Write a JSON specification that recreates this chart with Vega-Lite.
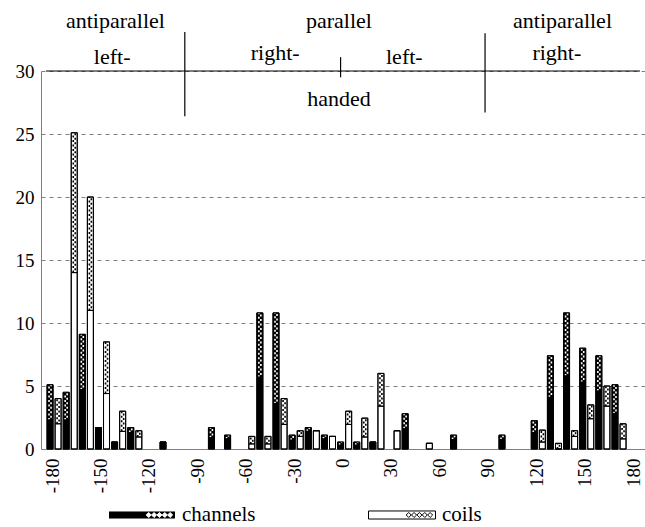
{
  "$schema": "https://vega.github.io/schema/vega-lite/v6.json",
  "width": 604,
  "height": 378,
  "autosize": {"type": "none"},
  "padding": {"left": 41, "top": 71, "right": 0, "bottom": 78},
  "background": "white",
  "config": {"view": {"stroke": null}, "font": "Liberation Serif"},
  "datasets": {
    "bars": [
      {"a": -177.5, "s": "channels", "solid": 2.3, "total": 5.1},
      {"a": -172.5, "s": "coils", "solid": 2.0, "total": 4.0},
      {"a": -167.5, "s": "channels", "solid": 2.3, "total": 4.5},
      {"a": -162.5, "s": "coils", "solid": 14.0, "total": 25.1},
      {"a": -157.5, "s": "channels", "solid": 4.7, "total": 9.1},
      {"a": -152.5, "s": "coils", "solid": 11.0, "total": 20.0},
      {"a": -147.5, "s": "channels", "solid": 1.7, "total": 1.7},
      {"a": -142.5, "s": "coils", "solid": 4.4, "total": 8.5},
      {"a": -137.5, "s": "channels", "solid": 0.55, "total": 0.55},
      {"a": -132.5, "s": "coils", "solid": 1.4, "total": 3.0},
      {"a": -127.5, "s": "channels", "solid": 1.3, "total": 1.7},
      {"a": -122.5, "s": "coils", "solid": 0.95, "total": 1.45},
      {"a": -107.5, "s": "channels", "solid": 0.55, "total": 0.55},
      {"a": -77.5, "s": "channels", "solid": 0.9, "total": 1.7},
      {"a": -67.5, "s": "channels", "solid": 0.8, "total": 1.1},
      {"a": -52.5, "s": "coils", "solid": 0.4, "total": 1.0},
      {"a": -47.5, "s": "channels", "solid": 5.7, "total": 10.8},
      {"a": -42.5, "s": "coils", "solid": 0.4, "total": 1.0},
      {"a": -37.5, "s": "channels", "solid": 3.6, "total": 10.8},
      {"a": -32.5, "s": "coils", "solid": 1.95, "total": 4.0},
      {"a": -27.5, "s": "channels", "solid": 0.7, "total": 1.1},
      {"a": -22.5, "s": "coils", "solid": 1.0, "total": 1.45},
      {"a": -17.5, "s": "channels", "solid": 1.4, "total": 1.7},
      {"a": -12.5, "s": "coils", "solid": 1.45, "total": 1.45},
      {"a": -7.5, "s": "channels", "solid": 0.8, "total": 1.1},
      {"a": -2.5, "s": "coils", "solid": 1.0, "total": 1.0},
      {"a": 2.5, "s": "channels", "solid": 0.3, "total": 0.55},
      {"a": 7.5, "s": "coils", "solid": 1.95, "total": 3.0},
      {"a": 12.5, "s": "channels", "solid": 0.3, "total": 0.55},
      {"a": 17.5, "s": "coils", "solid": 0.95, "total": 2.45},
      {"a": 22.5, "s": "channels", "solid": 0.55, "total": 0.55},
      {"a": 27.5, "s": "coils", "solid": 3.4, "total": 6.0},
      {"a": 37.5, "s": "coils", "solid": 1.45, "total": 1.45},
      {"a": 42.5, "s": "channels", "solid": 1.6, "total": 2.8},
      {"a": 57.5, "s": "coils", "solid": 0.45, "total": 0.45},
      {"a": 72.5, "s": "channels", "solid": 0.75, "total": 1.1},
      {"a": 102.5, "s": "channels", "solid": 0.75, "total": 1.1},
      {"a": 122.5, "s": "channels", "solid": 1.3, "total": 2.25},
      {"a": 127.5, "s": "coils", "solid": 0.55, "total": 1.5},
      {"a": 132.5, "s": "channels", "solid": 4.1, "total": 7.4},
      {"a": 137.5, "s": "coils", "solid": 0.0, "total": 0.45},
      {"a": 142.5, "s": "channels", "solid": 5.8, "total": 10.8},
      {"a": 147.5, "s": "coils", "solid": 1.0, "total": 1.45},
      {"a": 152.5, "s": "channels", "solid": 5.3, "total": 8.0},
      {"a": 157.5, "s": "coils", "solid": 2.4, "total": 3.5},
      {"a": 162.5, "s": "channels", "solid": 4.6, "total": 7.4},
      {"a": 167.5, "s": "coils", "solid": 3.4, "total": 5.0},
      {"a": 172.5, "s": "channels", "solid": 2.8, "total": 5.1},
      {"a": 177.5, "s": "coils", "solid": 0.8, "total": 2.0}
    ],
    "notes": [
      {"t": "antiparallel", "a": -137, "v": 33.4},
      {"t": "left-", "a": -139, "v": 30.55},
      {"t": "parallel", "a": 1.5, "v": 33.4},
      {"t": "right-", "a": -38, "v": 30.85},
      {"t": "left-", "a": 42, "v": 30.55},
      {"t": "handed", "a": 1.5, "v": 27.2},
      {"t": "antiparallel", "a": 140, "v": 33.4},
      {"t": "right-", "a": 136.5, "v": 30.85}
    ],
    "dividers": [
      {"a": -94, "lo": 26.4, "hi": 33.1},
      {"a": 92, "lo": 26.7, "hi": 33.0},
      {"a": 2.5, "lo": 29.5, "hi": 31.1}
    ]
  },
  "layer": [
    {
      "data": {"name": "bars"},
      "mark": {"type": "bar", "width": 6, "stroke": "black", "strokeWidth": 1},
      "encoding": {
        "x": {
          "field": "a", "type": "quantitative",
          "scale": {"domain": [-180, 188], "nice": false, "zero": false},
          "axis": {
            "values": [-180, -150, -120, -90, -60, -30, 0, 30, 60, 90, 120, 150, 180],
            "labelExpr": "toString(datum.value)",
            "title": null, "ticks": false, "grid": false,
            "domainColor": "#808080", "domainWidth": 1,
            "labelAngle": -90, "labelFont": "Liberation Serif", "labelFontSize": 19,
            "labelColor": "black", "labelPadding": 9, "labelOffset": 6,
            "labelFlush": false, "labelOverlap": false, "labelBound": false
          }
        },
        "y": {
          "field": "total", "type": "quantitative",
          "scale": {"domain": [0, 30], "nice": false},
          "axis": {
            "values": [0, 5, 10, 15, 20, 25, 30],
            "title": null, "ticks": false, "grid": true,
            "gridDash": [4, 4], "gridColor": "#808080", "gridWidth": 1,
            "domainColor": "#808080", "domainWidth": 1,
            "labelFont": "Liberation Serif", "labelFontSize": 19,
            "labelColor": "black", "labelPadding": 7
          }
        },
        "fill": {
          "field": "s", "type": "nominal",
          "scale": {"domain": ["channels", "coils"], "range": ["black", "white"]},
          "legend": {
            "title": null, "orient": "none", "legendX": 67, "legendY": 410,
            "direction": "horizontal",
            "symbolType": "M-1,-0.12H1V0.12H-1Z M0.2,-0.075L0.125,0L0.2,0.075L0.275,0Z M0.36,-0.075L0.285,0L0.36,0.075L0.435,0Z M0.52,-0.075L0.445,0L0.52,0.075L0.595,0Z M0.68,-0.075L0.605,0L0.68,0.075L0.755,0Z M0.84,-0.075L0.765,0L0.84,0.075L0.915,0Z",
            "symbolSize": 4489, "symbolStrokeColor": "black", "symbolStrokeWidth": 1,
            "symbolOpacity": 1,
            "labelFont": "Liberation Serif", "labelFontSize": 21, "labelColor": "black",
            "labelOffset": 6, "columnPadding": 110, "labelLimit": 0
          }
        }
      }
    },
    {
      "data": {"name": "bars"},
      "mark": {"type": "rule", "strokeWidth": 1.6, "strokeDash": [2, 2.5], "strokeDashOffset": 0, "xOffset": -1},
      "encoding": {
        "x": {"field": "a", "type": "quantitative"},
        "y": {"field": "solid", "type": "quantitative"},
        "y2": {"field": "total"},
        "stroke": {"field": "s", "type": "nominal", "scale": {"domain": ["channels", "coils"], "range": ["white", "black"]}, "legend": null}
      }
    },
    {
      "data": {"name": "bars"},
      "mark": {"type": "rule", "strokeWidth": 1.6, "strokeDash": [2, 2.5], "strokeDashOffset": 2.25, "xOffset": 1},
      "encoding": {
        "x": {"field": "a", "type": "quantitative"},
        "y": {"field": "solid", "type": "quantitative"},
        "y2": {"field": "total"},
        "stroke": {"field": "s", "type": "nominal", "scale": {"domain": ["channels", "coils"], "range": ["white", "black"]}, "legend": null}
      }
    },
    {
      "data": {"name": "bars"},
      "mark": {"type": "bar", "width": 6, "fill": "transparent", "stroke": "black", "strokeWidth": 1},
      "encoding": {
        "x": {"field": "a", "type": "quantitative"},
        "y": {"field": "solid", "type": "quantitative"},
        "y2": {"field": "total"}
      }
    },
    {
      "data": {"name": "bars"},
      "mark": {"type": "bar", "width": 6, "fill": "transparent", "stroke": "black", "strokeWidth": 1},
      "encoding": {
        "x": {"field": "a", "type": "quantitative"},
        "y": {"field": "solid", "type": "quantitative"}
      }
    },
    {
      "data": {"values": [{}]},
      "mark": {"type": "rule", "color": "black", "strokeWidth": 1.2},
      "encoding": {
        "x": {"datum": -180, "type": "quantitative"},
        "x2": {"datum": 188},
        "y": {"datum": 30, "type": "quantitative"}
      }
    },
    {
      "data": {"name": "dividers"},
      "mark": {"type": "rule", "color": "black", "strokeWidth": 1.2},
      "encoding": {
        "x": {"field": "a", "type": "quantitative"},
        "y": {"field": "lo", "type": "quantitative"},
        "y2": {"field": "hi"}
      }
    },
    {
      "data": {"name": "notes"},
      "mark": {"type": "text", "font": "Liberation Serif", "fontSize": 22, "color": "black", "align": "center", "baseline": "alphabetic"},
      "encoding": {
        "x": {"field": "a", "type": "quantitative"},
        "y": {"field": "v", "type": "quantitative"},
        "text": {"field": "t"}
      }
    }
  ]
}
